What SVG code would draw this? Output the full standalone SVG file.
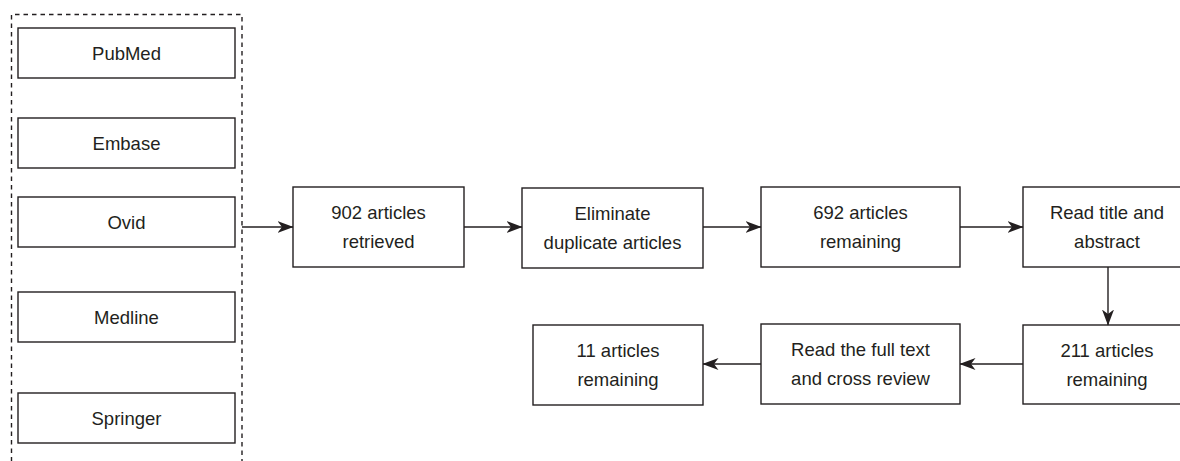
<svg xmlns="http://www.w3.org/2000/svg" width="1180" height="461" viewBox="0 0 1180 461">
<style>
.box{fill:#fff;stroke:#231f20;stroke-width:1.4}
.t{font-family:"Liberation Sans",Arial,sans-serif;font-size:18.5px;fill:#231f20;text-anchor:middle}
.c{stroke:#231f20;stroke-width:1.4;fill:none}
.dash{fill:none;stroke:#231f20;stroke-width:1.4;stroke-dasharray:4.5 4}
</style>
<defs>
<marker id="ah" viewBox="0 0 16 12" refX="15.5" refY="6" markerWidth="16" markerHeight="12" markerUnits="userSpaceOnUse" orient="auto">
<path d="M0,0 L16,6 L0,12 L4.5,6 Z" fill="#231f20"/>
</marker>
</defs>
<path class="dash" d="M11.5,470 V14.5 H242 V470"/>
<g id="pubmed"><rect class="box" x="18" y="28" width="217" height="50"/><text class="t" x="126.5" y="60">PubMed</text></g>
<g id="embase"><rect class="box" x="18" y="118" width="217" height="50"/><text class="t" x="126.5" y="150">Embase</text></g>
<g id="ovid"><rect class="box" x="18" y="197" width="217" height="50"/><text class="t" x="126.5" y="229">Ovid</text></g>
<g id="medline"><rect class="box" x="18" y="292" width="217" height="50"/><text class="t" x="126.5" y="324">Medline</text></g>
<g id="springer"><rect class="box" x="18" y="393" width="217" height="50"/><text class="t" x="126.5" y="425">Springer</text></g>
<g id="n902"><rect class="box" x="293" y="187" width="171" height="80"/><text class="t" x="378.5" y="219">902 articles</text><text class="t" x="378.5" y="248">retrieved</text></g>
<g id="elim"><rect class="box" x="522" y="188" width="181" height="80"/><text class="t" x="612.5" y="220">Eliminate</text><text class="t" x="612.5" y="249">duplicate articles</text></g>
<g id="n692"><rect class="box" x="761" y="187" width="199" height="80"/><text class="t" x="860.5" y="219">692 articles</text><text class="t" x="860.5" y="248">remaining</text></g>
<g id="readtitle"><rect class="box" x="1023" y="187" width="170" height="80"/><text class="t" x="1107" y="219">Read title and</text><text class="t" x="1107" y="248">abstract</text></g>
<g id="n211"><rect class="box" x="1023" y="325" width="170" height="79"/><text class="t" x="1107" y="357">211 articles</text><text class="t" x="1107" y="386">remaining</text></g>
<g id="readfull"><rect class="box" x="761" y="324" width="199" height="80"/><text class="t" x="860.5" y="356">Read the full text</text><text class="t" x="860.5" y="385">and cross review</text></g>
<g id="n11"><rect class="box" x="533" y="325" width="170" height="80"/><text class="t" x="618" y="357">11 articles</text><text class="t" x="618" y="386">remaining</text></g>
<g id="connectors">
<line class="c" x1="242" y1="227" x2="293" y2="227" marker-end="url(#ah)"/>
<line class="c" x1="464" y1="227" x2="522" y2="227" marker-end="url(#ah)"/>
<line class="c" x1="703" y1="227" x2="761" y2="227" marker-end="url(#ah)"/>
<line class="c" x1="960" y1="227" x2="1023" y2="227" marker-end="url(#ah)"/>
<line class="c" x1="1108" y1="267" x2="1108" y2="325" marker-end="url(#ah)"/>
<line class="c" x1="1023" y1="364" x2="960" y2="364" marker-end="url(#ah)"/>
<line class="c" x1="761" y1="364" x2="703" y2="364" marker-end="url(#ah)"/>
</g>
</svg>
